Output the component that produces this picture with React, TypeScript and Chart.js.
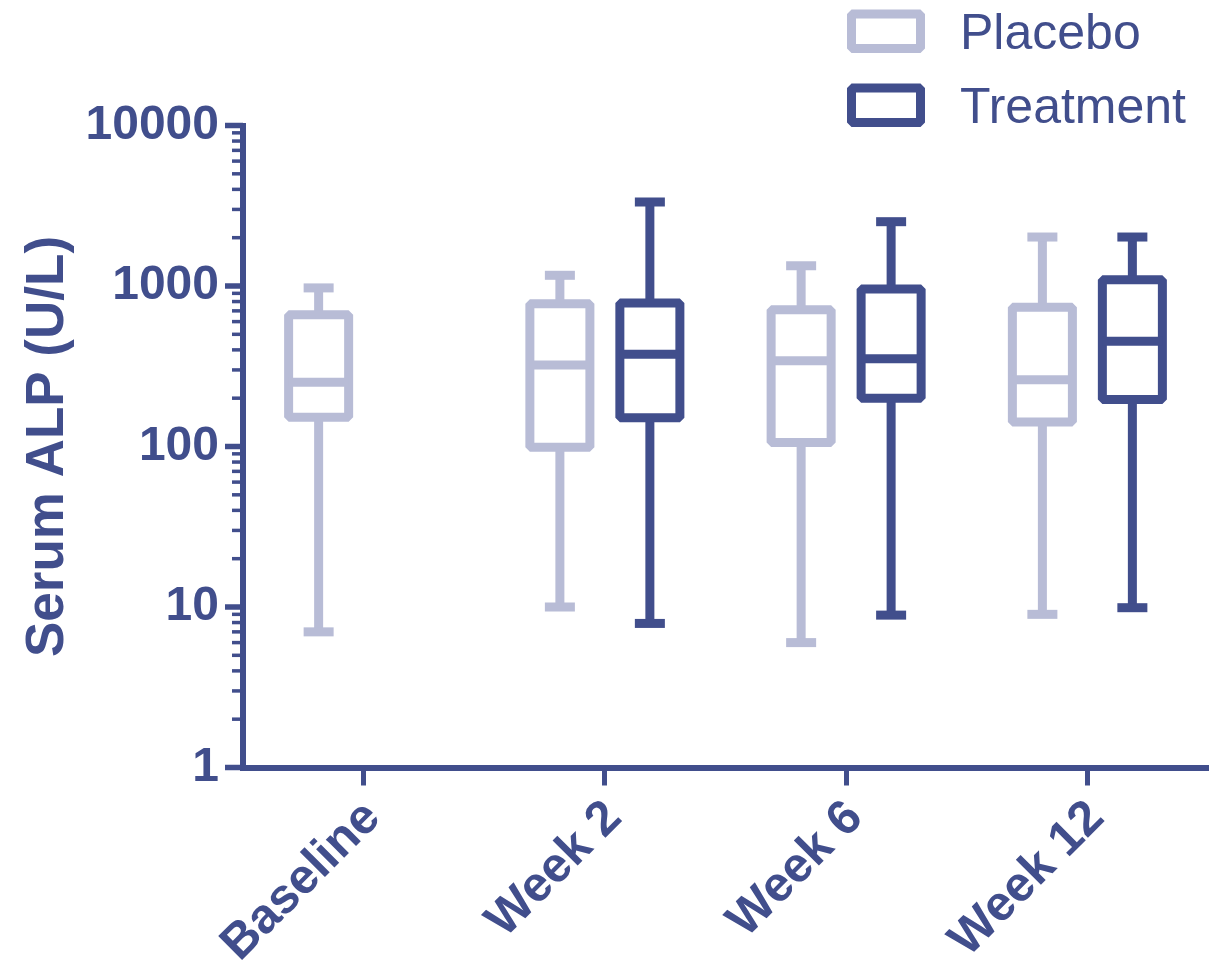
import React, { useEffect, useRef } from 'react';
import { Chart, registerables } from 'chart.js';

Chart.register(...registerables);

// ---------- data ----------
const CATEGORIES = ['Baseline', 'Week 2', 'Week 6', 'Week 12'];

const PLACEBO_MIN = [7, 10, 6, 9];
const PLACEBO_Q1 = [152, 99, 106, 142];
const PLACEBO_MEDIAN = [251, 322, 342, 261];
const PLACEBO_Q3 = [662, 776, 712, 737];
const PLACEBO_MAX = [973, 1166, 1337, 2019];

const TREATMENT_MIN = [null, 7.9, 8.9, 9.9];
const TREATMENT_Q1 = [null, 151, 200, 196];
const TREATMENT_MEDIAN = [null, 375, 352, 452];
const TREATMENT_Q3 = [null, 783, 957, 1094];
const TREATMENT_MAX = [null, 3337, 2516, 2019];

const Y_TICK_VALUES = [
  1, 2, 3, 4, 5, 6, 7, 8, 9,
  10, 20, 30, 40, 50, 60, 70, 80, 90,
  100, 200, 300, 400, 500, 600, 700, 800, 900,
  1000, 2000, 3000, 4000, 5000, 6000, 7000, 8000, 9000,
  10000,
];
const Y_LABELED = [1, 10, 100, 1000, 10000];

const SERIES_LABELS = ['Placebo', 'Treatment'];
const Y_TITLE = 'Serum ALP (U/L)';

// ---------- style ----------
const DARK = '#414E8C';
const LIGHT = '#B8BCD6';
const FONT = "'Liberation Sans', Arial, Helvetica, sans-serif";
const STROKE = 9;

const STATS = [
  { min: PLACEBO_MIN, q1: PLACEBO_Q1, med: PLACEBO_MEDIAN, q3: PLACEBO_Q3, max: PLACEBO_MAX },
  { min: TREATMENT_MIN, q1: TREATMENT_Q1, med: TREATMENT_MEDIAN, q3: TREATMENT_Q3, max: TREATMENT_MAX },
];

const boxPlugin = {
  id: 'boxWhisker',
  afterDatasetsDraw(chart: any) {
    const ctx = chart.ctx;
    const ys = chart.scales.y;
    chart.data.datasets.forEach((ds: any, di: number) => {
      const meta = chart.getDatasetMeta(di);
      const st = STATS[di];
      meta.data.forEach((bar: any, i: number) => {
        if (st.q1[i] == null) return;
        const { x, width } = bar.getProps(['x', 'width'], true);
        const yMin = ys.getPixelForValue(st.min[i]);
        const yQ1 = ys.getPixelForValue(st.q1[i]);
        const yMed = ys.getPixelForValue(st.med[i]);
        const yQ3 = ys.getPixelForValue(st.q3[i]);
        const yMax = ys.getPixelForValue(st.max[i]);
        ctx.save();
        ctx.strokeStyle = ds.borderColor;
        ctx.fillStyle = ds.borderColor;
        ctx.lineWidth = STROKE;
        ctx.lineJoin = 'bevel';
        ctx.lineCap = 'butt';
        // whiskers
        ctx.beginPath();
        ctx.moveTo(x, yQ3);
        ctx.lineTo(x, yMax);
        ctx.moveTo(x, yQ1);
        ctx.lineTo(x, yMin);
        ctx.stroke();
        // caps
        ctx.fillRect(x - 15, yMax - STROKE / 2, 30, STROKE);
        ctx.fillRect(x - 15, yMin - STROKE / 2, 30, STROKE);
        // box
        ctx.beginPath();
        ctx.rect(x - width / 2, yQ3, width, yQ1 - yQ3);
        ctx.stroke();
        // median
        ctx.beginPath();
        ctx.moveTo(x - width / 2, yMed);
        ctx.lineTo(x + width / 2, yMed);
        ctx.stroke();
        ctx.restore();
      });
    });
  },
};

const yTickPlugin = {
  id: 'yTickMarks',
  afterDraw(chart: any) {
    const ctx = chart.ctx;
    const ys = chart.scales.y;
    const left = chart.chartArea.left;
    ctx.save();
    ctx.strokeStyle = DARK;
    ctx.lineCap = 'butt';
    ys.ticks.forEach((t: any) => {
      const major = Y_LABELED.includes(t.value);
      const py = ys.getPixelForValue(t.value);
      ctx.lineWidth = major ? 5.5 : 3.5;
      ctx.beginPath();
      ctx.moveTo(left - (major ? 18 : 11), py);
      ctx.lineTo(left, py);
      ctx.stroke();
    });
    ctx.restore();
  },
};

const legendPlugin = {
  id: 'boxLegend',
  afterDraw(chart: any) {
    const ctx = chart.ctx;
    const baseX = chart.chartArea.right - 356.5;
    chart.data.datasets.forEach((ds: any, i: number) => {
      const cy = 31.3 + i * 74;
      ctx.save();
      ctx.lineWidth = STROKE;
      ctx.lineJoin = 'bevel';
      ctx.strokeStyle = ds.borderColor;
      ctx.fillStyle = '#ffffff';
      ctx.fillRect(baseX, cy - 17.3, 69, 34.6);
      ctx.strokeRect(baseX, cy - 17.3, 69, 34.6);
      ctx.fillStyle = DARK;
      ctx.font = `50px ${FONT}`;
      ctx.textBaseline = 'alphabetic';
      ctx.textAlign = 'left';
      ctx.fillText(ds.label, baseX + 108.5, cy + 17.8);
      ctx.restore();
    });
  },
};

export default function App() {
  const canvasRef = useRef<HTMLCanvasElement | null>(null);

  useEffect(() => {
    if (!canvasRef.current) return;
    const chart = new Chart(canvasRef.current, {
      type: 'bar',
      data: {
        labels: CATEGORIES,
        datasets: [
          {
            label: SERIES_LABELS[0],
            data: PLACEBO_Q1.map((v, i) => [v, PLACEBO_Q3[i]]) as any,
            backgroundColor: 'rgba(0,0,0,0)',
            borderColor: LIGHT,
            borderWidth: 0,
            categoryPercentage: 0.746,
            barPercentage: 0.667,
          },
          {
            label: SERIES_LABELS[1],
            data: TREATMENT_Q1.map((v, i) => (v == null ? null : [v, TREATMENT_Q3[i]])) as any,
            backgroundColor: 'rgba(0,0,0,0)',
            borderColor: DARK,
            borderWidth: 0,
            categoryPercentage: 0.746,
            barPercentage: 0.667,
          },
        ],
      },
      options: {
        responsive: false,
        animation: false,
        devicePixelRatio: 1,
        layout: { padding: { top: 125.5, right: 1, left: 0, bottom: 0 } },
        plugins: {
          legend: { display: false },
          tooltip: { enabled: false },
        },
        scales: {
          x: {
            type: 'category',
            offset: true,
            grid: {
              display: true,
              drawOnChartArea: false,
              drawTicks: true,
              tickLength: 18,
              tickWidth: 5,
              tickColor: DARK,
              offset: false,
            },
            border: { display: true, color: DARK, width: 6 },
            ticks: {
              color: DARK,
              font: { family: FONT, size: 49, weight: 'bold' },
              maxRotation: 45,
              minRotation: 45,
              autoSkip: false,
              padding: 4,
              labelOffset: 9,
            },
            afterFit: (s: any) => {
              s.height = 969 - 767.5;
            },
          },
          y: {
            type: 'logarithmic',
            min: 1,
            max: 10000,
            grid: { display: false, drawTicks: false },
            border: { display: true, color: DARK, width: 6 },
            afterBuildTicks: (s: any) => {
              s.ticks = Y_TICK_VALUES.map((v) => ({ value: v, major: Y_LABELED.includes(v) }));
            },
            ticks: {
              color: DARK,
              autoSkip: false,
              font: { family: FONT, size: 48, weight: 'bold' },
              padding: 24,
              callback: (v: any) => (Y_LABELED.includes(Number(v)) ? String(v) : ''),
            },
            title: {
              display: true,
              text: Y_TITLE,
              color: DARK,
              font: { family: FONT, size: 53, weight: 'bold' },
              padding: { top: 17, bottom: 0 },
            },
            afterFit: (s: any) => {
              s.width = 243;
            },
          },
        },
      },
      plugins: [boxPlugin, yTickPlugin, legendPlugin],
    } as any);
    return () => chart.destroy();
  }, []);

  return (
    <div style={{ position: 'fixed', left: 0, top: 0, width: 1209, height: 969, background: '#fff' }}>
      <canvas ref={canvasRef} width={1209} height={969} style={{ display: 'block' }} />
    </div>
  );
}
